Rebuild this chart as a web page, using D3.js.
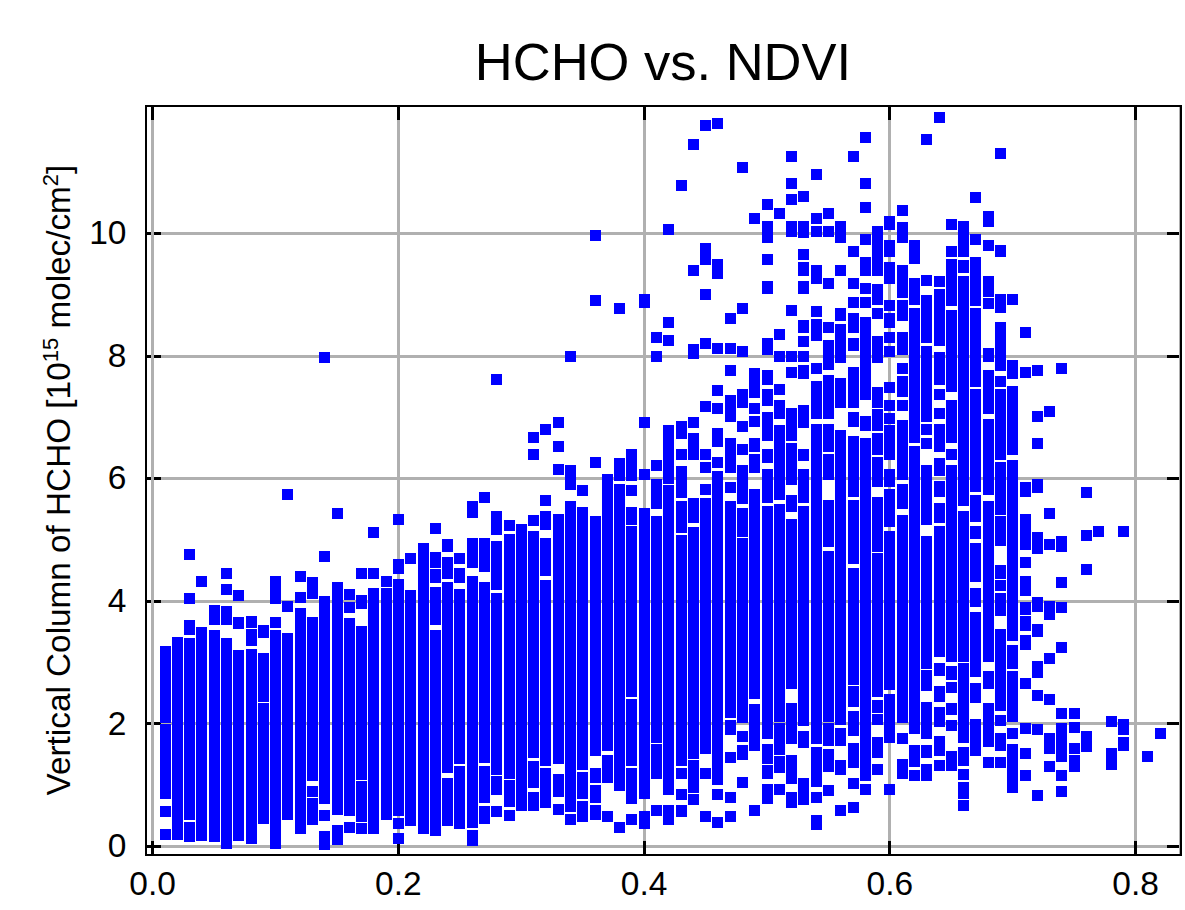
<!DOCTYPE html>
<html>
<head>
<meta charset="utf-8">
<title>HCHO vs. NDVI</title>
<script src="https://cdn.jsdelivr.net/npm/d3@7.9.0/dist/d3.min.js"></script>
<style>
    html, body { margin: 0; padding: 0; background: #fff; }
    svg { display: block; font-family: "Liberation Sans", Arial, sans-serif; }
    .tick text { font-size: 33.5px; fill: #000; }
</style>
</head>
<body>
<svg id="chart" width="1185" height="910"></svg>
<script>
const xTicks = [0, 0.2, 0.4, 0.6, 0.8];
const yTicks = [0, 2, 4, 6, 8, 10];

const ndvi = [
    0.01, 0.02, 0.03, 0.04, 0.05, 0.06, 0.07, 0.08, 0.09, 0.10,
    0.11, 0.12, 0.13, 0.14, 0.15, 0.16, 0.17, 0.18, 0.19, 0.20,
    0.21, 0.22, 0.23, 0.24, 0.25, 0.26, 0.27, 0.28, 0.29, 0.30,
    0.31, 0.32, 0.33, 0.34, 0.35, 0.36, 0.37, 0.38, 0.39, 0.40,
    0.41, 0.42, 0.43, 0.44, 0.45, 0.46, 0.47, 0.48, 0.49, 0.50,
    0.51, 0.52, 0.53, 0.54, 0.55, 0.56, 0.57, 0.58, 0.59, 0.60,
    0.61, 0.62, 0.63, 0.64, 0.65, 0.66, 0.67, 0.68, 0.69, 0.70,
    0.71, 0.72, 0.73, 0.74, 0.75, 0.76, 0.77, 0.78, 0.79, 0.81, 0.82
];

// one list per ndvi value: [high, low] for a packed run of points, [v] for a lone point
const hcho = [
    [[3.18,2.10],[1.90,0.86],[0.57],[0.19]],
    [[3.32,0.19]],
    [[4.76],[4.04],[3.60,3.54],[3.31,0.52],[0.31,0.16]],
    [[4.32],[3.49,0.18]],
    [[3.85,3.70],[3.44,0.16]],
    [[4.46],[4.19],[3.83,3.70],[3.31,0.05]],
    [[4.09],[3.65,3.63],[3.11,0.18]],
    [[3.67,3.65],[3.45,3.36],[3.13,0.13]],
    [[3.52,3.49],[3.06,2.44],[2.25,0.45]],
    [[4.33,4.04],[3.65],[3.44,0.05]],
    [[5.74],[3.91],[3.39,0.52]],
    [[4.40],[4.06],[3.80,0.29]],
    [[4.30,4.12],[3.65,1.15],[0.89],[0.70,0.44]],
    [[7.97],[4.73],[3.99,0.78],[0.50],[0.16,0.03]],
    [[5.43],[4.22,0.60],[0.26,0.11]],
    [[4.11],[3.89],[3.63,0.58],[0.31]],
    [[4.45],[4.02,3.96],[3.50,1.17],[0.98,0.49],[0.29]],
    [[5.12],[4.45],[4.12,0.29]],
    [[4.32],[4.12,0.52]],
    [[5.33],[4.60,4.53],[4.27,0.58],[0.37],[0.13]],
    [[4.69],[4.09,0.42]],
    [[4.86,0.29]],
    [[5.18],[4.71,4.64],[4.43,4.38],[4.15,3.70],[3.44,0.26]],
    [[4.92,4.89],[4.63,4.46],[4.22,1.29],[1.02,0.42]],
    [[4.69],[4.45,4.38],[4.11,1.43],[1.22,0.37]],
    [[5.54,5.44],[4.94,4.64],[4.33,0.39],[0.18,0.10]],
    [[5.70],[4.94,4.56],[4.22,1.45],[1.22,0.80],[0.57,0.45]],
    [[7.61],[5.39,5.17],[4.90,4.27],[4.04,1.25],[1.06,0.93],[0.57]],
    [[5.23],[5.00,1.19],[0.99,0.73],[0.50]],
    [[5.17,0.67]],
    [[6.67],[6.39],[5.31],[5.05,1.53],[1.30,1.04],[0.80,0.67]],
    [[6.80],[5.64],[5.38,5.26],[4.94,4.50],[4.25,1.40],[1.19,0.71]],
    [[6.91],[6.52],[6.15],[5.33,1.43],[1.09,0.89],[0.60]],
    [[8.00],[6.13,5.90],[5.54,0.65],[0.44]],
    [[5.80],[5.44,1.33],[1.12,0.86],[0.65,0.49]],
    [[9.97],[8.90],[6.27,6.26],[5.30,1.56],[1.19,1.12],[0.91,0.80],[0.58,0.52]],
    [[5.98,1.64],[1.40,1.12],[0.49]],
    [[8.77],[6.24,6.05],[5.83,0.99],[0.31]],
    [[6.39,6.05],[5.80],[5.44,5.33],[5.13,2.52],[2.31,1.40],[1.19,0.78],[0.44]],
    [[8.93,8.87],[6.91],[6.06],[5.43,0.86],[0.49,0.37]],
    [[8.30],[8.00],[6.21],[5.90,5.59],[5.30,1.77],[1.58,1.19],[0.58]],
    [[10.06],[8.54],[8.25],[6.78,6.45],[6.26,6.00],[5.80,0.93],[0.58,0.44]],
    [[10.79],[6.85,6.73],[6.39],[6.11,5.96],[5.77],[5.54,5.20],[4.99,1.40],[1.19],[0.85],[0.58,0.57]],
    [[11.46],[9.40],[8.10,8.04],[6.91],[6.65,6.39],[5.59,5.36],[5.12,1.51],[1.32,0.96],[0.76]],
    [[11.77],[9.75,9.57],[9.00],[8.20],[7.17],[6.39],[6.18],[5.83],[5.59,5.39],[5.20,1.60],[1.19],[0.49]],
    [[11.79],[9.50,9.34],[8.12],[7.44],[7.14],[6.73,6.60],[6.27],[6.03,1.09],[0.85],[0.39]],
    [[8.61],[8.12],[7.77],[7.27,7.01],[6.58,6.50],[6.31,6.19],[5.85],[5.54,2.18],[1.97,1.90],[1.45],[0.80],[0.49]],
    [[11.07],[8.78],[8.07],[7.38,7.24],[6.85],[6.47],[6.14,5.67],[5.43,5.13],[4.94,2.10],[1.79],[1.56,1.50],[1.04]],
    [[10.25],[7.71,7.40],[7.14],[6.93],[6.58,6.52],[6.31,6.18],[5.74,2.49],[2.23,1.64],[0.58]],
    [[10.48],[10.12],[9.93],[9.57],[9.14,9.11],[8.20,8.10],[7.68,7.61],[7.37,7.27],[6.99,6.71],[6.40,6.34],[6.06,5.70],[5.46,1.84],[1.58,1.43],[1.24,1.19],[0.93,0.78]],
    [[10.32],[8.35],[8.00],[7.46],[7.20,7.06],[6.78,5.74],[5.49,2.12],[1.92,1.58],[1.38,1.29],[0.93]],
    [[11.26],[10.81],[10.55],[10.12,10.04],[8.74],[8.00],[7.74],[7.06,6.70],[6.50,5.98],[5.65,5.54],[5.26,2.65],[2.25,1.76],[1.40,1.11],[0.80,0.71]],
    [[10.60],[10.11,10.01],[9.65],[9.45,9.39],[9.14,9.11],[8.50,8.46],[8.23],[8.00],[7.77,7.71],[7.11,6.91],[6.40,6.37],[6.06,5.70],[5.46,2.05],[1.79,1.69],[1.02,0.76]],
    [[10.97],[10.25],[10.04],[9.40,9.26],[8.72],[8.52,8.33],[7.79],[7.51,7.06],[6.81,1.76],[1.53,1.06],[0.80],[0.42,0.36]],
    [[10.33],[10.04],[9.19],[8.46],[8.18],[7.99,7.87],[7.60,7.07],[6.80,6.52],[6.31,6.06],[5.57,4.97],[4.73,2.12],[1.92,1.73],[1.50,1.30],[0.91]],
    [[10.12,9.94],[9.39],[8.70,8.67],[8.44,7.97],[7.55,7.24],[6.71,4.90],[4.71,2.07],[1.84,1.73],[1.32,1.25],[0.58]],
    [[11.26],[9.70],[9.19],[8.87],[8.61,8.47],[8.20,8.17],[7.74,7.24],[6.99,6.94],[6.60,5.79],[5.57,4.69],[4.46,2.72],[2.52,2.36],[2.12,1.89],[1.60,1.37],[1.02],[0.63]],
    [[11.57],[10.81],[10.43],[9.91],[9.52,9.39],[9.11],[8.87],[8.54,7.38],[6.93,6.86],[6.57,1.15],[0.93]],
    [[10.04,9.40],[9.08,8.92],[8.70],[8.23,7.97],[7.40,7.24],[7.04,6.86],[6.65,6.47],[6.27,5.96],[5.61,4.90],[4.69,2.52],[2.30,2.26],[2.07],[1.69,1.53],[1.25]],
    [[10.19,10.14],[9.80,9.71],[9.44,9.26],[8.83],[8.61,8.54],[8.30],[8.07],[7.49],[7.20],[6.98],[6.78,6.40],[6.06,5.96],[5.74,5.30],[5.05,2.64],[2.39,1.77],[0.93]],
    [[10.37],[10.10,9.93],[9.40,9.04],[8.83,8.67],[8.30,8.10],[7.79],[7.58,7.43],[7.20],[6.86,6.06],[5.83,5.59],[5.31,2.10],[1.76],[1.33,1.19]],
    [[9.81,9.60],[9.19,8.92],[8.70,6.67],[6.44,1.92],[1.56,1.38],[1.15]],
    [[11.54],[9.24],[8.90,8.30],[8.07,7.01],[6.80],[6.57],[6.14,5.33],[4.97,2.98],[2.79,2.62],[2.26,1.84],[1.56,1.53],[1.25,1.15]],
    [[11.90],[9.21],[9.00,8.25],[7.97,7.61],[7.38],[7.07],[6.80,6.52],[6.24,6.13],[5.87,5.79],[5.52,5.36],[5.13,3.18],[2.90,2.87],[2.52,2.44],[2.18,2.04],[1.71,1.56],[1.32]],
    [[10.14],[9.70],[9.50,8.90],[8.67,7.50],[7.20,6.67],[6.40],[6.13,5.65],[5.46,3.10],[2.85,2.80],[2.59],[2.25,2.23],[1.97],[1.46,1.32]],
    [[10.12,9.70],[9.47,9.45],[9.21,5.64],[5.38,3.10],[2.90,1.77],[1.53,1.40],[1.17],[0.96,0.86],[0.67]],
    [[10.58],[9.91],[9.52,8.90],[8.70,7.59],[7.37,5.87],[5.65,5.38],[5.13,5.10],[4.86,4.40],[4.12,3.99],[3.73,2.85],[2.57,2.43],[1.99,1.56]],
    [[10.27,10.19],[9.81],[9.21,9.06],[8.85],[8.05,8.00],[7.68,7.14],[6.88,5.83],[5.54,3.10],[2.77,2.65],[2.25,1.71],[1.37]],
    [[11.31],[9.73,9.71],[8.92,8.80],[8.46,7.85],[7.58],[7.38,6.39],[6.18,5.49],[5.30,4.99],[4.50,4.45],[4.25],[4.04,3.85],[3.45,2.30],[2.05],[1.76,1.64],[1.37]],
    [[8.92],[7.85,7.71],[7.43,6.47],[6.21,4.64],[4.45,3.44],[3.19,2.98],[2.77,2.12],[1.84],[1.58,0.96]],
    [[8.38],[7.74],[5.85,5.79],[5.33,4.92],[4.64],[4.33,4.17],[3.89,3.86],[3.67,3.60],[3.36,3.29],[2.65],[1.92],[1.51],[1.15]],
    [[7.77],[7.02],[6.57],[5.90,5.85],[5.04,4.86],[3.98,3.91],[3.54,3.50],[2.93,2.83],[2.46],[1.90],[0.83]],
    [[7.10],[5.43],[4.92],[3.91,3.78],[3.06],[2.39],[1.76,1.60],[1.30]],
    [[7.79],[4.97,4.90],[4.30],[3.89],[3.24],[2.17],[1.92,1.46],[1.15],[0.89]],
    [[2.17],[1.94],[1.60],[1.40,1.30]],
    [[5.77],[5.07],[4.51],[1.79,1.63]],
    [[5.13]],
    [[2.04],[1.51,1.33]],
    [[5.13],[1.99,1.90],[1.69,1.64]],
    [[1.46]],
    [[1.84]]
];

const markerSize = 11;
const gridColor = '#b0b0b0';

const svg = d3.select('#chart');

const x = d3.scaleLinear().domain([-0.005, 0.837]).range([146.5, 1181]);
const y = d3.scaleLinear().domain([-0.14, 12.08]).range([855, 106]);

const left = x.range()[0], right = x.range()[1];
const bottom = y.range()[0], top_ = y.range()[1];

function styleLines(g, color) {
    g.select('.domain').remove();
    g.selectAll('line')
        .attr('stroke', color)
        .attr('stroke-width', 3)
        .attr('shape-rendering', 'crispEdges');
}

// horizontal grid, then the y ticks, then the vertical grid, then the x ticks
svg.append('g')
    .attr('transform', `translate(${left},0)`)
    .call(d3.axisLeft(y).offset(0).tickValues(yTicks).tickSize(-(right - left)).tickFormat(''))
    .call(styleLines, gridColor);

svg.append('g')
    .attr('transform', `translate(${left},0)`)
    .call(d3.axisLeft(y).offset(0).tickValues(yTicks).tickSize(-14).tickPadding(20))
    .call(styleLines, '#000');

svg.append('g')
    .attr('transform', `translate(${right},0)`)
    .call(d3.axisRight(y).offset(0).tickValues(yTicks).tickSize(-14).tickFormat(''))
    .call(styleLines, '#000');

svg.append('g')
    .attr('transform', `translate(0,${bottom})`)
    .call(d3.axisBottom(x).offset(0).tickValues(xTicks).tickSize(-(bottom - top_)).tickFormat(''))
    .call(styleLines, gridColor);

svg.append('g')
    .attr('transform', `translate(0,${bottom})`)
    .call(d3.axisBottom(x).offset(0).tickValues(xTicks).tickSize(-14).tickPadding(16).tickFormat(d3.format('.1f')))
    .call(styleLines, '#000');

svg.append('g')
    .attr('transform', `translate(0,${top_})`)
    .call(d3.axisTop(x).offset(0).tickValues(xTicks).tickSize(-14).tickFormat(''))
    .call(styleLines, '#000');

// the points
const runs = ndvi.flatMap((v, i) => hcho[i].map(r => ({ ndvi: v, high: r[0], low: r[r.length - 1] })));

svg.append('g')
    .selectAll('rect')
    .data(runs)
    .join('rect')
    .attr('x', d => Math.round(x(d.ndvi) + 0.12 - markerSize / 2))
    .attr('y', d => Math.round(y(d.high) - markerSize / 2))
    .attr('width', markerSize)
    .attr('height', d => Math.round(y(d.low) + markerSize / 2) - Math.round(y(d.high) - markerSize / 2))
    .attr('fill', '#0000ff')
    .attr('shape-rendering', 'crispEdges');

// frame, the right side has a thin grey edge inside it
svg.append('line')
    .attr('x1', right - 1.5).attr('x2', right - 1.5)
    .attr('y1', top_).attr('y2', bottom)
    .attr('stroke', gridColor)
    .attr('stroke-width', 1)
    .attr('shape-rendering', 'crispEdges');

svg.append('rect')
    .attr('x', Math.floor(left))
    .attr('y', top_)
    .attr('width', right - Math.floor(left))
    .attr('height', bottom - top_)
    .attr('fill', 'none')
    .attr('stroke', '#000')
    .attr('stroke-width', 2)
    .attr('shape-rendering', 'crispEdges');

svg.append('text')
    .attr('x', 663)
    .attr('y', 80)
    .attr('text-anchor', 'middle')
    .attr('font-size', 52.5)
    .text('HCHO vs. NDVI');

const yLabel = svg.append('text')
    .attr('transform', 'translate(70,480) rotate(-90)')
    .attr('text-anchor', 'middle')
    .attr('font-size', 33.3);

yLabel.append('tspan').text('Vertical Column of HCHO [10');
yLabel.append('tspan').attr('dy', -12).attr('font-size', 22).text('15');
yLabel.append('tspan').attr('dy', 12).text(' molec/cm');
yLabel.append('tspan').attr('dy', -12).attr('font-size', 22).text('2');
yLabel.append('tspan').attr('dy', 12).text(']');
</script>
</body>
</html>
